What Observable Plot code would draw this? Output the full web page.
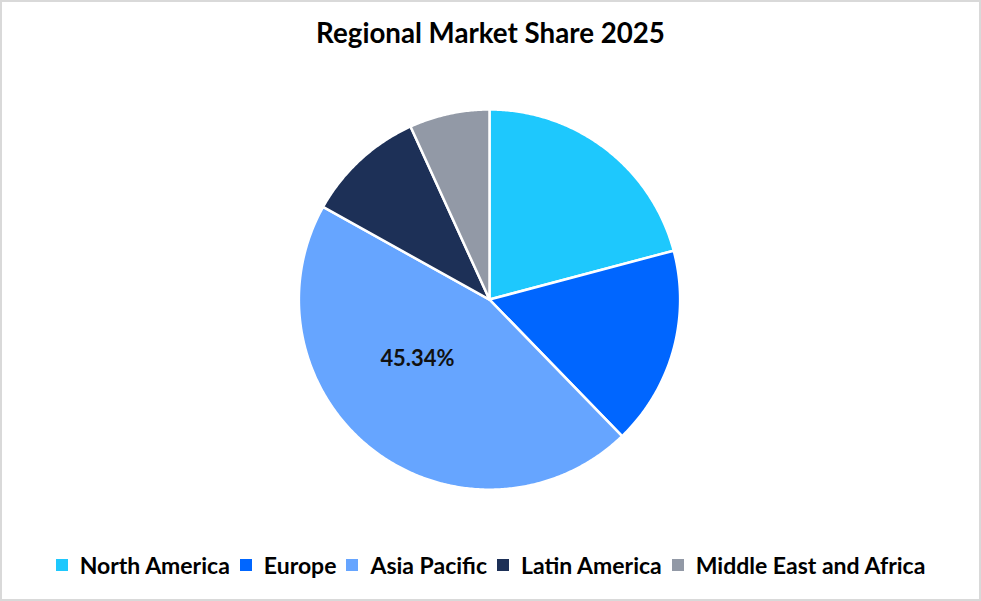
<!DOCTYPE html>
<html>
<head>
<meta charset="utf-8">
<script src="https://cdn.jsdelivr.net/npm/d3@7"></script>
<script src="https://cdn.jsdelivr.net/npm/@observablehq/plot@0.6"></script>
<style>
  html, body { margin: 0; padding: 0; background: #fff; }
  #frame { position: relative; width: 981px; height: 601px; box-sizing: border-box; border: 2px solid #d9d9d9; background: #fff; font-family: Lato, "Open Sans", sans-serif; overflow: hidden; }
  #title { position: absolute; left: 0; right: 0; top: 14px; text-align: center; font-weight: 700; font-size: 27.7px; color: #000; }
  #chart { position: absolute; left: -2px; top: 88px; }
  #legend { position: absolute; left: 0; right: 0; top: 549px; display: flex; justify-content: center; align-items: center; font-weight: 700; font-size: 23px; color: #000; }
  .item { display: flex; align-items: center; margin: 0 5px; }
  .sw { width: 12px; height: 12px; margin-right: 12px; }
</style>
</head>
<body>
<div id="frame">
  <div id="title">Regional Market Share 2025</div>
  <div id="chart"></div>
  <div id="legend"></div>
</div>
<script>
const regions = ["North America", "Europe", "Asia Pacific", "Latin America", "Middle East and Africa"];
const shares = [20.86, 16.90, 45.34, 10.10, 6.80];
const colors = ["#1ec8fd", "#0066ff", "#66a5ff", "#1d3057", "#9299a6"];
const labelRegions = ["Asia Pacific"];

// Build slice outlines from the shares (angles clockwise from 12 o'clock)
const total = d3.sum(shares);
const pieRows = [];
const labelRows = [];
let start = 0;
regions.forEach((name, i) => {
  const a0 = start;
  const a1 = start + shares[i] / total * 2 * Math.PI;
  start = a1;
  const n = Math.max(2, Math.ceil((a1 - a0) / (Math.PI / 360)));
  pieRows.push({name, x: 0, y: 0});
  for (let k = 0; k <= n; k++) {
    const a = a0 + (a1 - a0) * k / n;
    pieRows.push({name, x: Math.sin(a), y: Math.cos(a)});
  }
  pieRows.push({name, x: 0, y: 0});
  if (labelRegions.includes(name)) {
    const m = (a0 + a1) / 2;
    labelRows.push({name, x: 0.5 * Math.sin(m), y: 0.5 * Math.cos(m), text: shares[i].toFixed(2) + "%"});
  }
});

const W = 981, H = 420;
const plot = Plot.plot({
  width: W,
  height: H,
  marginLeft: 299,
  marginRight: 300,
  marginTop: 19,
  marginBottom: 20,
  x: {domain: [-1, 1], axis: null},
  y: {domain: [-1, 1], axis: null},
  color: {domain: regions, range: colors},
  style: {background: "transparent", overflow: "visible"},
  marks: [
    Plot.line(pieRows, {x: "x", y: "y", z: "name", fill: "name", stroke: "#ffffff", strokeWidth: 2.5, strokeLinejoin: "round", curve: "linear"}),
    Plot.text(labelRows, {x: "x", y: "y", text: "text", dx: -14, dy: -16, fontSize: 22, fontWeight: 700, fill: "#111", fontFamily: "Lato, 'Open Sans', sans-serif"})
  ]
});
document.getElementById("chart").appendChild(plot);

const legend = document.getElementById("legend");
regions.forEach((name, i) => {
  const it = document.createElement("div");
  it.className = "item";
  const sw = document.createElement("span");
  sw.className = "sw";
  sw.style.background = colors[i];
  const t = document.createElement("span");
  t.textContent = name;
  it.appendChild(sw);
  it.appendChild(t);
  legend.appendChild(it);
});
</script>
</body>
</html>
